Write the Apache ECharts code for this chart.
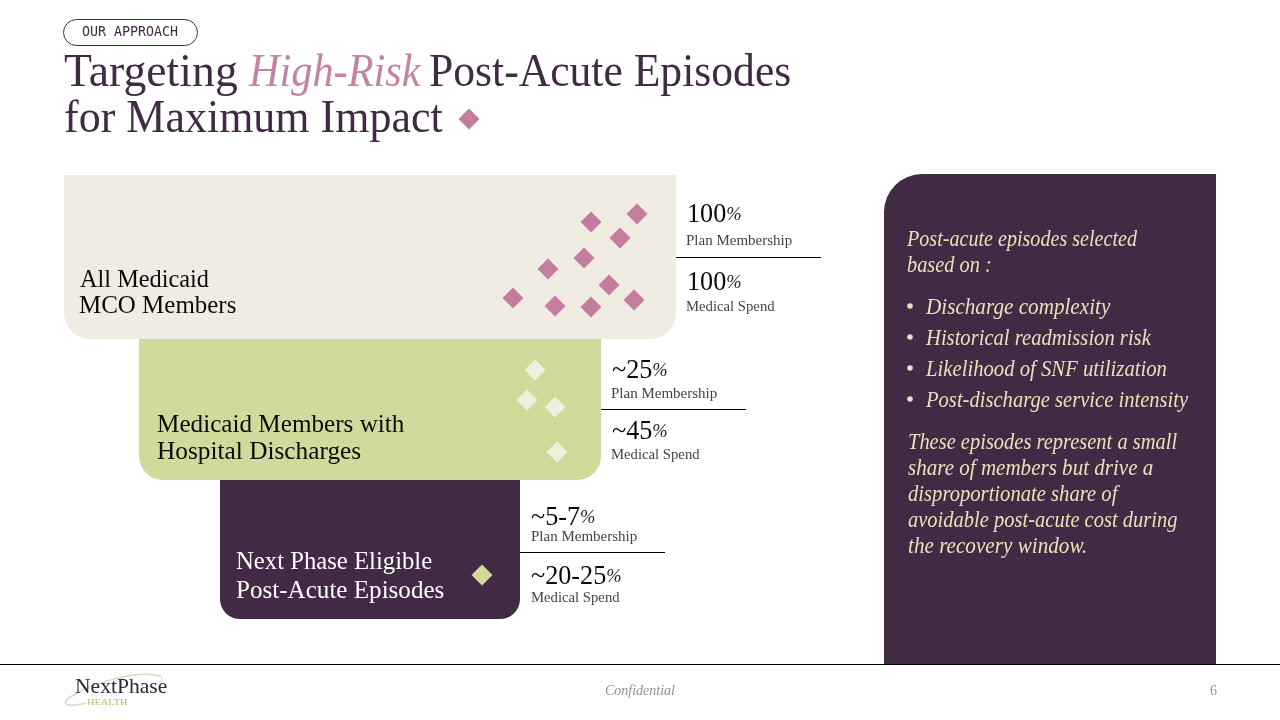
<!DOCTYPE html>
<html><head><meta charset="utf-8">
<style>html,body{margin:0;padding:0;background:#fff}#c{width:1280px;height:720px}</style>
<script src="https://cdn.jsdelivr.net/npm/echarts@6/dist/echarts.min.js"></script>
</head><body><div id="c"></div>
<script>
// ---- data ----
const tierNames = [["All Medicaid","MCO Members"],["Medicaid Members with","Hospital Discharges"],["Next Phase Eligible","Post-Acute Episodes"]];
const tierStart = [64,139,220];
const tierEnd = [676,601,520];
const tierTop = [175,339,480];
const tierBottom = [339,480,619];
const planMembership = ["100","~25","~5-7"];
const medicalSpend = ["100","~45","~20-25"];
const pinkX = [591,637,620,584,548,609,513,555,591,634,469];
const pinkY = [222,214,238,258,269,285,298,306,307,300,119];
const paleX = [535,527,555,557];
const paleY = [370,400,407,452];
const greenX = [482];
const greenY = [575];
const panelLead = ["Post-acute episodes selected","based on :"];
const panelBullets = ["Discharge complexity","Historical readmission risk","Likelihood of SNF utilization","Post-discharge service intensity"];
const panelBody = ["These episodes represent a small","share of members but drive a","disproportionate share of","avoidable post-acute cost during","the recovery window."];

// ---- styles ----
const SERIF = '"Liberation Serif", serif';
const PLUM = '#402A44', PINK = '#C47C9F', GREEN = '#D0DA9A', BEIGE = '#F0ECE2', PALE = '#EDF0DC', CREAM = '#E7E2BC';
const tierFill = [BEIGE, GREEN, PLUM];
const tierText = ['#0b0b0b','#0b0b0b','#ffffff'];
const tierRadius = [26,24,20];
const tierLabelX = [80,157,236];
const tierLabelY = [[280,306],[425,452],[562,591]];
const tierLabelFit = [[0.935,0.96],[0.968,0.974],[0.95,0.965]];
const statRows = [[214.5,241,282.5,307],[370.5,394,431.5,455],[517.5,537,576.5,598]];
const dividerY = [257.5,409.5,552.5];
const statLabelNudge = [0,0,1];
const leadFit = [0.874,0.885];
const bulletFit = [0.92,0.896,0.90,0.895];
const bodyFit = [0.89,0.915,0.897,0.892,0.92];

function text(x,y,s,size,fill,extra,sx){
  return {type:'text',x,y,scaleX:sx||1,silent:true,style:Object.assign({text:s,font:size+'px '+SERIF,fill,verticalAlign:'middle',align:'left'},extra||{})};
}
const g = [];
// pill + title
g.push({type:'rect',shape:{x:63.5,y:19.5,width:134,height:26,r:13},style:{fill:'#fff',stroke:PLUM,lineWidth:1}});
g.push({type:'text',x:82,y:33,style:{text:'OUR APPROACH',font:'13.3px "DejaVu Sans Mono", monospace',fill:PLUM,verticalAlign:'middle'}});
g.push(text(64,74,'Targeting',47,PLUM,null,0.973));
g.push(text(249,74,'High-Risk',47,'#C483A6',{font:'italic 47px '+SERIF},0.90));
g.push(text(429,74,'Post-Acute Episodes',47,PLUM,null,0.928));
g.push(text(64,120,'for Maximum Impact',47,PLUM,null,0.936));
// tier labels and stats
tierNames.forEach((lines,i)=>{
  lines.forEach((l,j)=>g.push(text(tierLabelX[i]-(i===0&&j===1?1:0),tierLabelY[i][j],l,26,tierText[i],null,tierLabelFit[i][j])));
  const sx = tierEnd[i]+11, r = statRows[i];
  const rich = {n:{font:'27px '+SERIF,fill:'#0b0b0b'},p:{font:'italic 19px '+SERIF,fill:'#222'}};
  g.push({type:'text',x:sx,y:r[0],scaleX:0.97,style:{text:'{n|'+planMembership[i]+'}{p|%}',rich,verticalAlign:'middle'}});
  g.push(text(sx-1+statLabelNudge[i],r[1],'Plan Membership',15,'#444'));
  g.push({type:'text',x:sx,y:r[2],scaleX:0.97,style:{text:'{n|'+medicalSpend[i]+'}{p|%}',rich,verticalAlign:'middle'}});
  g.push(text(sx-1+statLabelNudge[i],r[3],'Medical Spend',15,'#444',null,0.98));
  g.push({type:'line',shape:{x1:tierEnd[i],y1:dividerY[i],x2:tierEnd[i]+145,y2:dividerY[i]},style:{stroke:'#000',lineWidth:1}});
});
// footer
g.push({type:'line',shape:{x1:0,y1:664.5,x2:1280,y2:664.5},z:1,style:{stroke:'#000',lineWidth:1}});
g.push({type:'bezierCurve',shape:{x1:65,y1:703,cpx1:68,cpy1:692,cpx2:130,cpy2:668,x2:161,y2:676},style:{stroke:'#DAD7C4',lineWidth:1.5,fill:null}});
g.push({type:'bezierCurve',shape:{x1:161,y1:676,cpx1:163,cpy1:679,cpx2:162,cpy2:681,x2:157,y2:684},style:{stroke:'#DAD7C4',lineWidth:1,fill:null}});
g.push({type:'bezierCurve',shape:{x1:65,y1:703,cpx1:68,cpy1:707,cpx2:78,cpy2:705,x2:86,y2:703},style:{stroke:'#DAD7C4',lineWidth:1.5,fill:null}});
g.push(text(75,687,'NextPhase',22,'#33253F',null,0.98));
g.push({type:'text',x:87,y:703,scaleX:1.15,style:{text:'HEALTH',font:'9px '+SERIF,fill:'#A9BC5E',verticalAlign:'middle'}});
g.push(text(640,691,'Confidential',14,'#8f8f8f',{align:'center',font:'italic 14px '+SERIF}));
g.push(text(1217,691,'6',14,'#8f8f8f',{align:'right'}));
// panel text
const it = 'italic 23px '+SERIF;
panelLead.forEach((l,i)=>g.push(text(907,240+26*i,l,23,CREAM,{font:it},leadFit[i])));
panelBullets.forEach((l,i)=>{
  g.push({type:'circle',shape:{cx:910,cy:306+31*i,r:2.8},style:{fill:CREAM}});
  g.push(text(926,308+31*i,l,23,CREAM,{font:it},bulletFit[i]));
});
panelBody.forEach((l,i)=>g.push(text(908,443+26*i,l,23,CREAM,{font:it},bodyFit[i])));
g.forEach(e=>{ if(e.z===undefined) e.z=10; });

const tierData = tierStart.map((s,i)=>[s,tierEnd[i],tierTop[i],tierBottom[i],i]);
const chart = echarts.init(document.getElementById('c'),null,{renderer:'canvas',width:1280,height:720});
chart.setOption({
  animation:false,
  backgroundColor:'#fff',
  grid:{left:0,right:0,top:0,bottom:0},
  xAxis:{type:'value',min:0,max:1280,show:false},
  yAxis:{type:'value',min:0,max:720,inverse:true,show:false},
  graphic:{elements:g},
  series:[
    {type:'custom',coordinateSystem:'cartesian2d',z:1,silent:true,data:tierData,
     encode:{x:[0,1],y:[2,3]},
     renderItem(p,api){
       const a=api.coord([api.value(0),api.value(2)]),b=api.coord([api.value(1),api.value(3)]),i=api.value(4);
       const r=tierRadius[i];
       return {type:'rect',shape:{x:a[0],y:a[1],width:b[0]-a[0],height:b[1]-a[1],r:[0,0,r,r]},style:{fill:tierFill[i]}};
     }},
    {type:'custom',coordinateSystem:'cartesian2d',z:2,silent:true,data:[[884,1216,174,664]],
     encode:{x:[0,1],y:[2,3]},
     renderItem(p,api){
       const a=api.coord([api.value(0),api.value(2)]),b=api.coord([api.value(1),api.value(3)]);
       return {type:'rect',shape:{x:a[0],y:a[1],width:b[0]-a[0],height:b[1]-a[1],r:[38,0,0,0]},style:{fill:PLUM}};
     }},
    {type:'scatter',symbol:'diamond',symbolSize:[21,21],z:5,silent:true,itemStyle:{color:PINK,opacity:1},data:pinkX.map((x,i)=>[x,pinkY[i]])},
    {type:'scatter',symbol:'diamond',symbolSize:[21,21],z:5,silent:true,itemStyle:{color:PALE,opacity:1},data:paleX.map((x,i)=>[x,paleY[i]])},
    {type:'scatter',symbol:'diamond',symbolSize:[21,21],z:5,silent:true,itemStyle:{color:GREEN,opacity:1},data:greenX.map((x,i)=>[x,greenY[i]])}
  ]
});
</script></body></html>
